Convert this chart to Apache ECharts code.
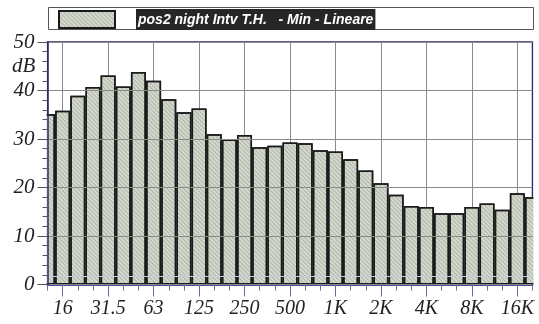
<!DOCTYPE html>
<html><head><meta charset="utf-8">
<script src="https://cdn.jsdelivr.net/npm/echarts@6/dist/echarts.min.js"></script>
<style>html,body{margin:0;padding:0;background:#fff}#c{width:539px;height:324px}</style>
</head><body><div id="c"></div>
<script>
var bands = ['12.5','16','20','25','31.5','40','50','63','80','100','125','160','200','250','315','400','500','630','800','1K','1.25K','1.6K','2K','2.5K','3.15K','4K','5K','6.3K','8K','10K','12.5K','16K','20K'];
var levels = [35.1,35.8,38.9,40.7,43.1,40.8,43.8,42.0,38.2,35.5,36.3,31.0,29.9,30.8,28.3,28.6,29.3,29.1,27.7,27.4,25.8,23.5,20.9,18.5,16.2,16.0,14.7,14.7,16.0,16.7,15.4,18.8,18.0];
var tickLabels = ['16','31.5','63','125','250','500','1K','2K','4K','8K','16K'];
var seriesName = 'pos2 night Intv T.H.   - Min - Lineare';
var yUnit = 'dB';

var chart = echarts.init(document.getElementById('c'), null, {renderer:'canvas'});
var isLab = function(i, v){ return tickLabels.indexOf(bands[i]) >= 0; };
var serif = '"Liberation Serif","DejaVu Serif",serif';
var navy = '#2c2c6e';
var option = {
  animation: false,
  backgroundColor: '#fff',
  graphic: [
    {type:'rect', shape:{x:48.5,y:7.5,width:485,height:22}, style:{fill:'#fff', stroke:'#555', lineWidth:1}, z:-1},
    {type:'rect', shape:{x:36,y:40,width:10.6,height:244}, style:{fill:'#fff'}, z:3},
    {type:'rect', shape:{x:533.4,y:40,width:6,height:246}, style:{fill:'#fff'}, z:3},
    {type:'text', left:12, top:56, style:{text:yUnit, font:'italic 21px ' + serif, fill:'#222'}, z:6}
  ],
  legend: {
    left: 58, top: 9, padding: 0,
    icon: 'rect',
    itemWidth: 56, itemHeight: 17, itemGap: 0,
    itemStyle: {borderColor:'#1a1a1a', borderWidth:2},
    formatter: function(n){ return '{s|}{t|' + n + '}'; },
    textStyle: {
      rich: {
        s: {width: 16},
        t: {backgroundColor:'#262626', color:'#fff', fontSize:14, lineHeight:14, fontWeight:'bold', fontStyle:'italic', fontFamily:'"Liberation Sans",Arial,sans-serif', padding:[4,2,3,2]}
      }
    },
    data: [seriesName]
  },
  grid: {left:47.5, right:6.5, top:42, bottom:39.5, show:true, borderColor:navy, borderWidth:1.5, backgroundColor:'#fff'},
  xAxis: [{
    type:'category', data:bands, boundaryGap:false,
    axisLine:{show:true, lineStyle:{color:'#4a4aa0', width:2}},
    axisTick:{show:true, interval:0, length:6, lineStyle:{color:'#6a6a9a', width:1}},
    axisLabel:{interval:isLab, margin:14, fontSize:20, fontStyle:'italic', fontFamily:serif, color:'#222'},
    splitLine:{show:true, interval:isLab, lineStyle:{color:'#8a8a8a', width:1}}
  },{
    type:'category', data:bands, boundaryGap:false, position:'bottom',
    axisLine:{show:false},
    axisTick:{show:true, interval:isLab, length:12, lineStyle:{color:'#6a6a9a', width:1}},
    axisLabel:{show:false}, splitLine:{show:false}
  }],
  yAxis: {
    type:'value', min:0, max:50, interval:10, z:5,
    axisLine:{show:true, lineStyle:{color:navy, width:1.5}},
    axisTick:{show:true, length:10, lineStyle:{color:'#555', width:1}},
    minorTick:{show:true, splitNumber:5, length:5, lineStyle:{color:'#555', width:1}},
    axisLabel:{margin:13, fontSize:21, fontStyle:'italic', fontFamily:serif, color:'#222'},
    splitLine:{show:true, lineStyle:{color:'#8a8a8a', width:1}}
  },
  series: [{
    name: seriesName, type:'bar', data:levels, barWidth:15, clip:true,
    itemStyle:{
      color:'#d4d9ce', borderColor:'#1a1a1a', borderWidth:1.5,
      decal:{symbol:'rect', symbolSize:1, dashArrayX:[[1,0]], dashArrayY:[1,2], rotation:Math.PI/4, color:'rgba(130,140,125,0.45)'}
    },
    markLine:{silent:true, symbol:'none', label:{show:false}, lineStyle:{color:'#c8c8ea', width:1, type:'solid'}, data:[{yAxis:1.6}]}
  }]
};
chart.setOption(option);
</script></body></html>
